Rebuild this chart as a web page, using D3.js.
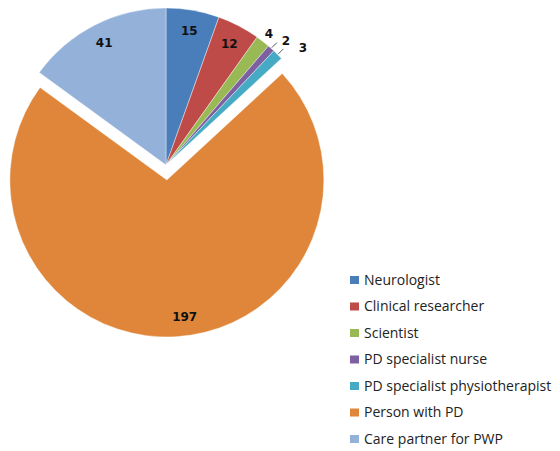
<!DOCTYPE html>
<html>
<head>
<meta charset="utf-8">
<script src="https://cdn.jsdelivr.net/npm/d3@7"></script>
<style>
  body { margin: 0; background: #fff; }
  svg { display: block; }
  .lbl { font-family: "DejaVu Sans", sans-serif; font-weight: bold; font-size: 12px; fill: #111; }
  .leg text { font-family: "Open Sans", sans-serif; font-size: 14px; fill: #222; }
</style>
</head>
<body>
<svg id="chart" width="560" height="451"></svg>
<script>
// Survey respondents by role
const categories = [
    "Neurologist",
    "Clinical researcher",
    "Scientist",
    "PD specialist nurse",
    "PD specialist physiotherapist",
    "Person with PD",
    "Care partner for PWP"
];
const counts = [15, 12, 4, 2, 3, 197, 41];
const colors = ["#4a7ebb", "#be4b48", "#98b954", "#7d60a0", "#46aac5", "#e0863a", "#94b1da"];
const exploded = ["Person with PD"];

const svg = d3.select("#chart");
const cx = 166, cy = 165, r = 157;
const explodeBy = 15;

const data = categories.map((c, i) => ({ name: c, value: counts[i], color: colors[i] }));

const pie = d3.pie().sort(null).value(d => d.value);
const arcs = pie(data);
const arc = d3.arc().innerRadius(0).outerRadius(r);

function offsetOf(a) {
    if (!exploded.includes(a.data.name)) return [0, 0];
    const mid = (a.startAngle + a.endAngle) / 2;
    return [explodeBy * Math.sin(mid), -explodeBy * Math.cos(mid)];
}

const g = svg.append("g").attr("transform", `translate(${cx},${cy})`);

g.selectAll("path.slice")
    .data(arcs)
    .enter()
    .append("path")
    .attr("class", "slice")
    .attr("transform", d => `translate(${offsetOf(d)})`)
    .attr("d", arc)
    .attr("fill", d => d.data.color)
    .attr("stroke", "#fff")
    .attr("stroke-width", 0.4);

// Data labels: inside for the big slices, outside for the thin ones
let prev = null;
arcs.forEach(a => {
    const mid = (a.startAngle + a.endAngle) / 2;
    const [ox, oy] = offsetOf(a);
    const inside = (a.endAngle - a.startAngle) > 0.2;
    let lr = inside ? r * 0.87 : r + 10;
    let x = ox + lr * Math.sin(mid);
    let y = oy - lr * Math.cos(mid);
    if (exploded.includes(a.data.name)) x += 10; // best-fit nudge like the original
    if (!inside && prev && Math.hypot(x - prev[0], y - prev[1]) < 12) {
        // crowded: push out and draw a short leader
        const ex = (r + 1) * Math.sin(mid), ey = -(r + 1) * Math.cos(mid);
        x = prev[0] + 17;
        y = prev[1] + 7;
        g.append("line")
            .attr("x1", ex).attr("y1", ey)
            .attr("x2", ex + 5).attr("y2", ey - 5)
            .attr("stroke", "#333").attr("stroke-width", 0.8);
    }
    if (!inside) prev = [x, y];
    g.append("text")
        .attr("class", "lbl")
        .attr("x", x)
        .attr("y", y)
        .attr("dy", "0.35em")
        .attr("text-anchor", "middle")
        .text(a.data.value);
});

// Legend
const leg = svg.append("g").attr("class", "leg")
    .attr("transform", "translate(350,280)");
const rowH = 26.5;
const rows = leg.selectAll("g")
    .data(data)
    .enter()
    .append("g")
    .attr("transform", (d, i) => `translate(0,${i * rowH})`);

rows.append("rect")
    .attr("x", 0).attr("y", -4)
    .attr("width", 9).attr("height", 8)
    .attr("fill", d => d.color);

rows.append("text")
    .attr("x", 14)
    .attr("dy", "0.35em")
    .text(d => d.name);
</script>
</body>
</html>
